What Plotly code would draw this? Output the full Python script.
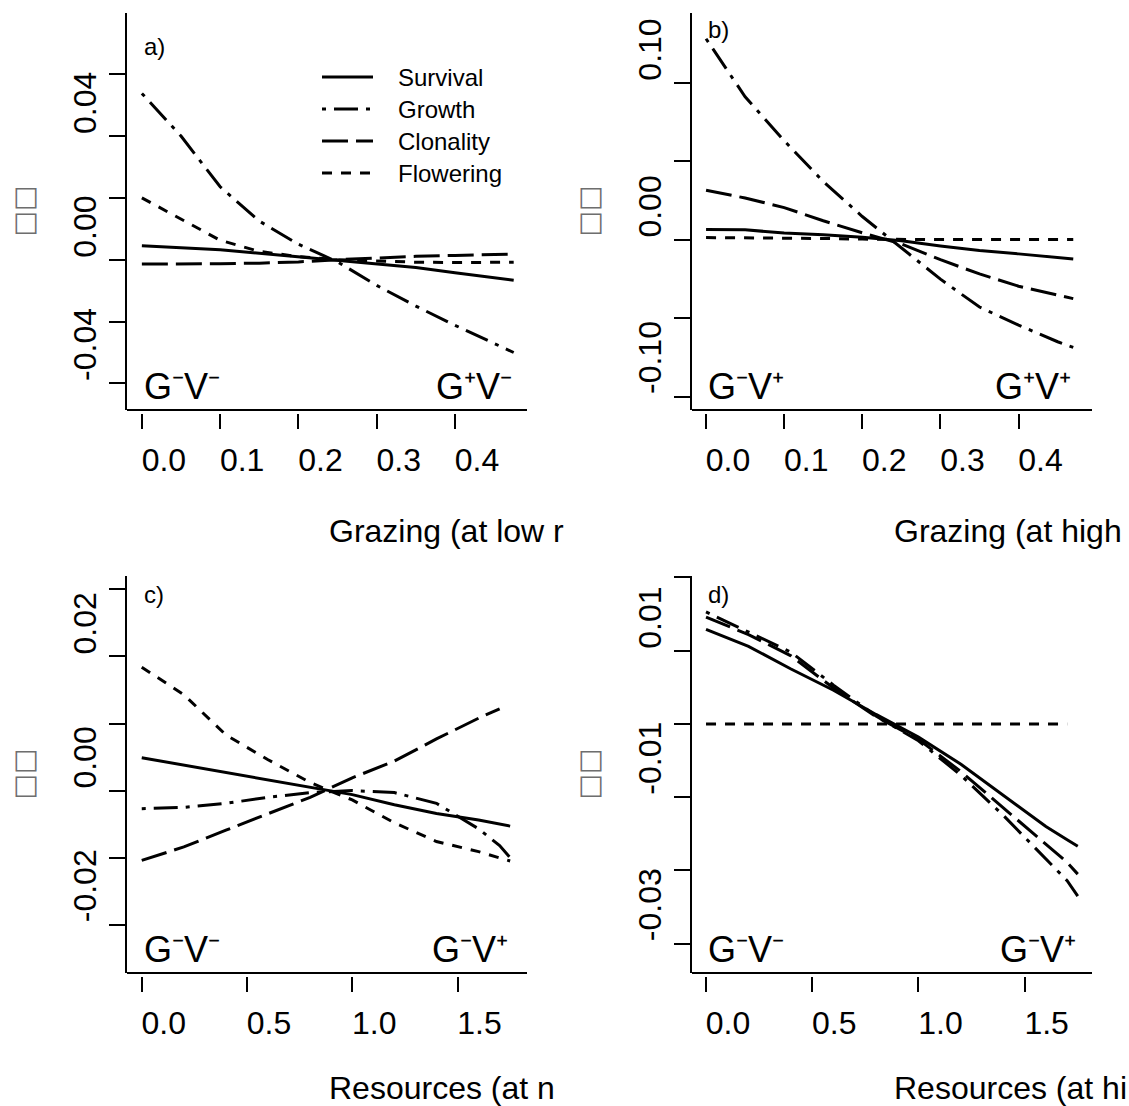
import plotly.graph_objects as go

FONT = "Liberation Sans, Arial, Helvetica, sans-serif"
W, H = 1129, 1106

series_names = ["Survival", "Growth", "Clonality", "Flowering"]

# ---- panel a: grazing at low resources ----
grazing_a = [0, 0.05, 0.10, 0.15, 0.20, 0.25, 0.30, 0.35, 0.40, 0.45, 0.475]
survival_a = [0.0045, 0.0039, 0.0032, 0.0021, 0.0010, -0.0001, -0.0012, -0.0025, -0.0042, -0.0058, -0.0066]
growth_a = [0.0538, 0.0400, 0.0236, 0.0125, 0.0050, -0.0007, -0.0083, -0.0150, -0.0212, -0.0270, -0.0300]
clonality_a = [-0.0014, -0.0014, -0.0013, -0.0011, -0.0007, 0.0000, 0.0006, 0.0011, 0.0014, 0.0017, 0.0018]
flowering_a = [0.0200, 0.0132, 0.0063, 0.0027, 0.0010, 0.0000, -0.0005, -0.0008, -0.0009, -0.0009, -0.0008]

# ---- panel b: grazing at high resources ----
grazing_b = [0, 0.05, 0.10, 0.15, 0.20, 0.25, 0.30, 0.35, 0.40, 0.45, 0.47]
survival_b = [0.0064, 0.0062, 0.0042, 0.0031, 0.0015, -0.0008, -0.0041, -0.0069, -0.0091, -0.0115, -0.0124]
growth_b = [0.128, 0.091, 0.063, 0.037, 0.0147, -0.005, -0.0252, -0.043, -0.0545, -0.0651, -0.0687]
clonality_b = [0.0315, 0.0265, 0.0204, 0.0120, 0.0043, -0.0028, -0.0128, -0.0219, -0.0297, -0.0355, -0.0376]
flowering_b = [0.0013, 0.0012, 0.0010, 0.0007, 0.0003, 0.0, 0.0, 0.0, 0.0, 0.0, 0.0]

# ---- panel c: resources at no grazing ----
resources_c = [0, 0.2, 0.4, 0.6, 0.8, 1.0, 1.2, 1.4, 1.6, 1.7, 1.75]
survival_c = [0.0049, 0.0038, 0.0027, 0.0016, 0.0006, -0.0006, -0.0021, -0.0034, -0.0044, -0.0050, -0.0053]
growth_c = [-0.0027, -0.0025, -0.0019, -0.0010, -0.0003, 0.0000, -0.0003, -0.0019, -0.0057, -0.0082, -0.0100]
clonality_c = [-0.0104, -0.0084, -0.0059, -0.0034, -0.0010, 0.0019, 0.0044, 0.0077, 0.0108, 0.0122, None]
flowering_c = [0.0184, 0.0143, 0.0083, 0.0046, 0.0012, -0.0014, -0.0048, -0.0076, -0.0091, -0.0100, -0.0105]

# ---- panel d: resources at high grazing ----
resources_d = [0, 0.2, 0.4, 0.6, 0.8, 1.0, 1.2, 1.4, 1.6, 1.7, 1.75]
survival_d = [0.0129, 0.0106, 0.0075, 0.0046, 0.0013, -0.0018, -0.0055, -0.0097, -0.0140, -0.0158, -0.0167]
growth_d = [0.0153, 0.0125, 0.0098, 0.0053, 0.0011, -0.0023, -0.0070, -0.0125, -0.0184, -0.0214, -0.0235]
clonality_d = [0.0146, 0.0122, 0.0093, 0.0049, 0.0010, -0.0021, -0.0065, -0.0115, -0.0165, -0.0189, -0.0205]
flowering_d = [0, 0, 0, 0, 0, 0, 0, 0, 0, 0, None]

# ---- ticks ----
grazing_ticks = [0, 0.1, 0.2, 0.3, 0.4]
grazing_ticktext = ["0.0", "0.1", "0.2", "0.3", "0.4"]
resources_ticks = [0, 0.5, 1.0, 1.5]
resources_ticktext = ["0.0", "0.5", "1.0", "1.5"]
yticks_a = [-0.04, -0.02, 0, 0.02, 0.04, 0.06]
ylabels_a = ["0.04", "0.00", "-0.04"]
yticks_b = [-0.10, -0.05, 0, 0.05, 0.10]
ylabels_b = ["0.10", "0.00", "-0.10"]
yticks_c = [-0.02, -0.01, 0, 0.01, 0.02, 0.03]
ylabels_c = ["0.02", "0.00", "-0.02"]
yticks_d = [-0.03, -0.02, -0.01, 0, 0.01, 0.02]
ylabels_d = ["0.01", "-0.01", "-0.03"]

y_title = "\u25a1\u25a1"
x_titles = ["Grazing (at low r", "Grazing (at high", "Resources (at n", "Resources (at hi"]
tags = ["a)", "b)", "c)", "d)"]
left_states = ["G\u207bV\u207b", "G\u207bV\u207a", "G\u207bV\u207b", "G\u207bV\u207b"]
right_states = ["G\u207aV\u207b", "G\u207aV\u207a", "G\u207bV\u207a", "G\u207bV\u207a"]

dashes = ["solid", "4px,8px,24px,8px", "26px,8px", "10px,9px"]

panels = [
    dict(x=grazing_a, ys=[survival_a, growth_a, clonality_a, flowering_a],
         px=(127, 527), py=(13, 410), xr=(-0.019, 0.492), yr=(-0.0486, 0.0798),
         xt=grazing_ticks, xtt=grazing_ticktext, yt=yticks_a, yl=ylabels_a,
         tagy=47, titleb=551),
    dict(x=grazing_b, ys=[survival_b, growth_b, clonality_b, flowering_b],
         px=(692, 1092), py=(13, 410), xr=(-0.018, 0.494), yr=(-0.1086, 0.1444),
         xt=grazing_ticks, xtt=grazing_ticktext, yt=yticks_b, yl=ylabels_b,
         tagy=30, titleb=551),
    dict(x=resources_c, ys=[survival_c, growth_c, clonality_c, flowering_c],
         px=(127, 527), py=(576, 973), xr=(-0.07, 1.83), yr=(-0.0272, 0.032),
         xt=resources_ticks, xtt=resources_ticktext, yt=yticks_c, yl=ylabels_c,
         tagy=594, titleb=1108),
    dict(x=resources_d, ys=[survival_d, growth_d, clonality_d, flowering_d],
         px=(692, 1092), py=(576, 973), xr=(-0.066, 1.817), yr=(-0.034, 0.0202),
         xt=resources_ticks, xtt=resources_ticktext, yt=yticks_d, yl=ylabels_d,
         tagy=594, titleb=1108),
]

# legend placement (panel a), in pixels
legend_line_x = (322, 373)
legend_text_x = 396
legend_rows = [77, 109, 141, 173]

fig = go.Figure()
annotations = []
shapes = []
layout = {}

for i, p in enumerate(panels):
    n = "" if i == 0 else str(i + 1)
    xa, ya = "x" + n, "y" + n
    for j, (name, yv) in enumerate(zip(series_names, p["ys"])):
        fig.add_trace(go.Scatter(
            x=p["x"], y=yv, mode="lines", name=name, xaxis=xa, yaxis=ya,
            line=dict(color="black", width=3, dash=dashes[j]),
            showlegend=False, hoverinfo="skip"))
    x0, x1 = p["px"][0] / W, p["px"][1] / W
    y0, y1 = 1 - p["py"][1] / H, 1 - p["py"][0] / H
    tick_pos = 1 - (p["py"][1] + 3) / H
    layout["xaxis" + n] = dict(
        domain=[x0, x1], range=list(p["xr"]), anchor="free", position=tick_pos,
        tickmode="array", tickvals=p["xt"], ticktext=p["xtt"],
        ticks="outside", ticklen=15, tickwidth=2, tickcolor="black",
        showline=False, showgrid=False, zeroline=False,
        tickfont=dict(family=FONT, size=32, color="black"),
        ticklabelshift=22, ticklabelstandoff=4)
    layout["yaxis" + n] = dict(
        domain=[y0, y1], range=list(p["yr"]), anchor=xa,
        tickmode="array", tickvals=p["yt"], showticklabels=False,
        ticks="outside", ticklen=16, tickwidth=2, tickcolor="black",
        showline=True, linewidth=2, linecolor="black",
        showgrid=False, zeroline=False)
    # bottom frame line (bty="l")
    shapes.append(dict(type="line", xref=xa + " domain", yref=ya + " domain",
                       x0=0, x1=1, y0=0, y1=0, line=dict(color="black", width=2)))
    # y tick labels, left-justified (text starts at the tick)
    for lab in p["yl"]:
        annotations.append(dict(
            xref=xa + " domain", yref=ya, x=0, y=float(lab), text=lab,
            textangle=-90, xanchor="right", yanchor="bottom", xshift=-22, showarrow=False,
            font=dict(family=FONT, size=32, color="black")))
    # y title (undisplayable glyphs in the original)
    annotations.append(dict(
        xref="paper", yref=ya + " domain", x=(p["px"][0] - 104) / W, y=0.5, text=y_title,
        textangle=-90, xanchor="center", yanchor="middle", showarrow=False,
        font=dict(family="DejaVu Sans", size=27, color="#6e6e6e")))
    # x title (clipped in the original)
    annotations.append(dict(
        xref="paper", yref="paper", x=(p["px"][0] + p["px"][1]) / 2 / W,
        y=1 - p["titleb"] / H, text=x_titles[i],
        xanchor="left", yanchor="bottom", showarrow=False,
        font=dict(family=FONT, size=32, color="black")))
    # panel tag
    annotations.append(dict(
        xref=xa, yref="paper", x=0, y=1 - p["tagy"] / H, text=tags[i],
        xanchor="left", yanchor="middle", showarrow=False,
        font=dict(family=FONT, size=24, color="black")))
    # state labels
    annotations.append(dict(
        xref=xa, yref=ya + " domain", x=0, y=0, text=left_states[i],
        xanchor="left", yanchor="bottom", yshift=1, showarrow=False,
        font=dict(family=FONT, size=36, color="black")))
    annotations.append(dict(
        xref=xa, yref=ya + " domain", x=p["x"][-1], y=0, text=right_states[i],
        xanchor="right", yanchor="bottom", yshift=1, showarrow=False,
        font=dict(family=FONT, size=36, color="black")))

# legend (drawn as in the original: long sample lines, text to the right)
for j, name in enumerate(series_names):
    yy = 1 - legend_rows[j] / H
    shapes.append(dict(type="line", xref="paper", yref="paper",
                       x0=legend_line_x[0] / W, x1=legend_line_x[1] / W, y0=yy, y1=yy,
                       line=dict(color="black", width=3, dash=dashes[j])))
    annotations.append(dict(
        xref="paper", yref="paper", x=legend_text_x / W, y=yy, text=name,
        xanchor="left", yanchor="middle", showarrow=False,
        font=dict(family=FONT, size=24, color="black")))

fig.update_layout(
    width=W, height=H, autosize=False,
    margin=dict(l=0, r=0, t=0, b=0),
    paper_bgcolor="white", plot_bgcolor="white",
    showlegend=False,
    annotations=annotations, shapes=shapes,
    **layout)

fig.write_html("out.html")
